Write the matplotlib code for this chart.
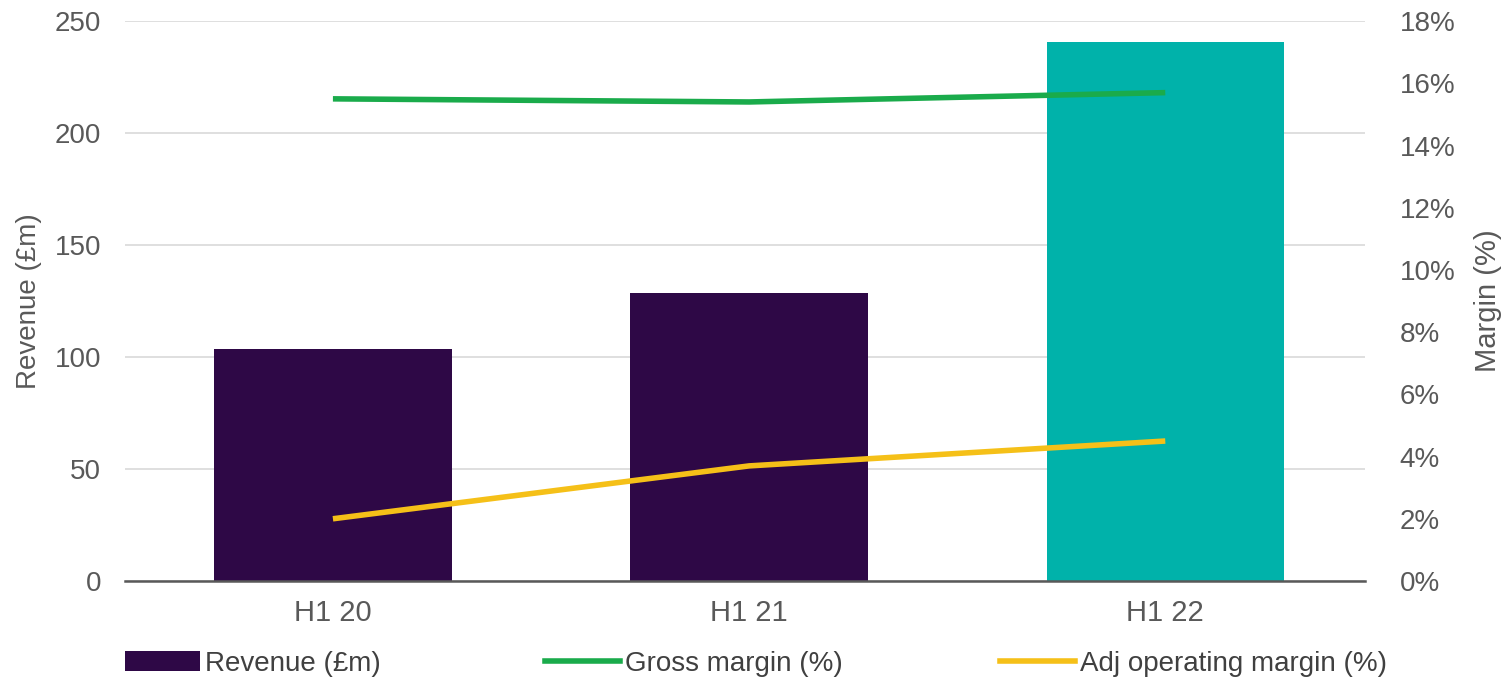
import matplotlib
matplotlib.use("Agg")
import matplotlib.pyplot as plt
from matplotlib.ticker import FuncFormatter
from matplotlib.patches import Patch
from matplotlib.lines import Line2D

categories = ["H1 20", "H1 21", "H1 22"]
revenue = [103.6, 128.6, 240.6]
gross_margin = [15.5, 15.4, 15.7]
adj_op_margin = [2.0, 3.7, 4.5]
bar_colors = ["#2e0846", "#2e0846", "#00b2aa"]

plt.rcParams['font.family'] = ['Liberation Sans', 'DejaVu Sans']
grey = "#595959"
FS = 20

fig = plt.figure(figsize=(15.04, 6.8), dpi=100)
ax = fig.add_axes([0.083, 0.1456, 0.8246, 0.8234])
ax2 = ax.twinx()

x = list(range(len(categories)))
ax.bar(x, revenue, width=0.57, color=bar_colors, zorder=2)
ax.set_ylim(0, 250)
ax.set_yticks([0, 50, 100, 150, 200, 250])
ax.set_xlim(-0.5, 2.48)
ax.set_xticks(x)
ax.set_xticklabels(categories)
ax.grid(axis='y', color='#d9d9d9', linewidth=1.2, zorder=0)
ax.set_axisbelow(True)
for s in ['top', 'right', 'left']:
    ax.spines[s].set_visible(False)
ax.spines['bottom'].set_color(grey)
ax.spines['bottom'].set_linewidth(1.8)
ax.tick_params(axis='both', length=0, labelsize=FS, labelcolor=grey)
ax.tick_params(axis='y', pad=17)
ax.tick_params(axis='x', pad=13, labelsize=FS + 1)
ax.set_ylabel("Revenue (£m)", fontsize=FS, color=grey)
ax.yaxis.set_label_coords(-0.0665, 0.5)

ax2.plot(x, gross_margin, color="#1aab4b", linewidth=4, solid_capstyle='butt', zorder=3)
ax2.plot(x, adj_op_margin, color="#f5c018", linewidth=4, solid_capstyle='butt', zorder=3)
ax2.set_ylim(0, 18)
ax2.set_yticks(range(0, 19, 2))
ax2.yaxis.set_major_formatter(FuncFormatter(lambda v, p: f"{int(v)}%"))
for s in ax2.spines.values():
    s.set_visible(False)
ax2.tick_params(axis='y', length=0, labelsize=FS, labelcolor=grey, pad=25)
ax2.set_ylabel("Margin (%)", fontsize=FS + 1, color=grey)
ax2.yaxis.set_label_coords(1.088, 0.5)

handles = [
    Patch(facecolor="#2e0846"),
    Line2D([0], [0], color="#1aab4b", linewidth=4),
    Line2D([0], [0], color="#f5c018", linewidth=4),
]
labels = ["Revenue (£m)", "Gross margin (%)", "Adj operating margin (%)"]
xs_px = [125, 545, 1000]
for h, lab, xp in zip(handles, labels, xs_px):
    leg = fig.legend([h], [lab], loc='center left', bbox_to_anchor=(xp / 1504, 1 - 664 / 680),
                     frameon=False, fontsize=FS, handlelength=75 / 27.8, handleheight=0.75,
                     handletextpad=0.18, borderpad=0, borderaxespad=0, labelcolor='#404040')

fig.savefig("out.png", dpi=100)
